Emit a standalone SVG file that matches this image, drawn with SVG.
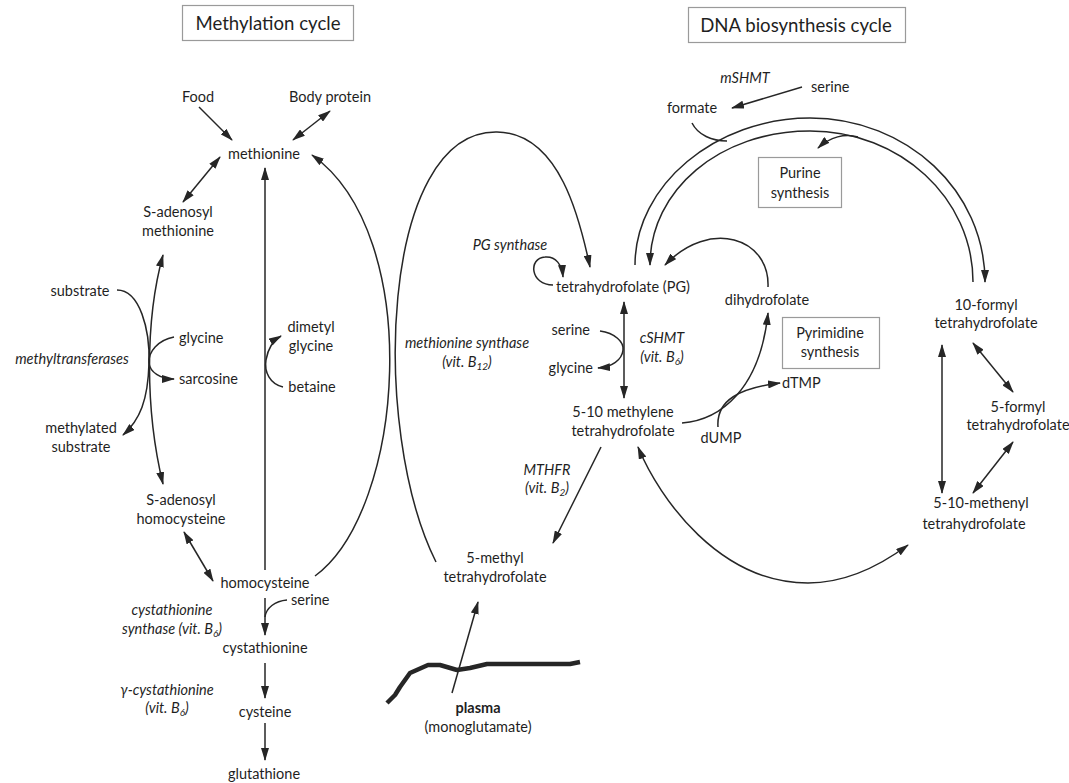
<svg xmlns="http://www.w3.org/2000/svg" width="1069" height="783" viewBox="0 0 1069 783">
<style>
text{font-family:Lato,"Liberation Sans",sans-serif;font-size:14.5px;fill:#1f1f1f}
.i{font-style:italic}
.m{text-anchor:middle}
.e{text-anchor:end}
.t{font-size:18.6px}
.b{font-weight:bold}
.box{fill:#fff;stroke:#9a9a9a;stroke-width:1.2}
.c path,.c line{fill:none;stroke:#262626;stroke-width:1.5}
.a{marker-end:url(#ah)}
.d{marker-start:url(#ah);marker-end:url(#ah)}
</style>
<defs>
<marker id="ah" viewBox="0 0 13 8" refX="12" refY="4" markerWidth="13" markerHeight="8" markerUnits="userSpaceOnUse" orient="auto-start-reverse">
<path d="M0,0 L13,4 L0,8 z" fill="#262626"/>
</marker>
</defs>
<g id="titles">
<g id="methylation-title"><rect class="box" x="182.5" y="5.5" width="171" height="35"/><text class="m t" x="268" y="30">Methylation cycle</text></g>
<g id="dna-title"><rect class="box" x="688.5" y="7.5" width="217" height="35"/><text class="m t" x="796" y="32">DNA biosynthesis cycle</text></g>
</g>
<g class="c" id="connectors">
<line class="a" x1="199" y1="107" x2="232" y2="140"/>
<line class="d" x1="330" y1="111" x2="293" y2="140"/>
<line class="d" x1="220" y1="157" x2="183" y2="202"/>
<path class="d" d="M163,255 C145,320 145,410 163,484"/>
<path class="a" d="M117,290 C140,290 150,330 149,363 C148,400 140,420 123,435"/>
<path class="a" d="M174,337 C158,340 148,352 149,363 C150,372 160,379 174,379"/>
<line class="a" x1="265" y1="570" x2="265" y2="168"/>
<path class="a" d="M283,387 C270,384 264,372 266,360 C268,348 274,340 281,336"/>
<line class="d" x1="184" y1="532" x2="213" y2="581"/>
<path class="a" d="M315,576 C405,510 425,235 312,155"/>
<path d="M287,600 C275,601 266,608 265,617"/>
<line class="a" x1="265" y1="598" x2="265" y2="635"/>
<line class="a" x1="265" y1="663" x2="265" y2="698"/>
<line class="a" x1="265" y1="723" x2="265" y2="760"/>
<path class="a" d="M436,562 C370,430 380,130 497,132 C560,133 580,220 590,267"/>
<path class="a" d="M553,285 C530,285 528,258 545,257 C556,256 562,265 563,277"/>
<line class="d" x1="624" y1="302" x2="624" y2="398"/>
<path class="a" d="M600,331 C615,333 624,342 623,350 C622,360 612,367 598,368"/>
<line class="a" x1="601" y1="447" x2="553" y2="543"/>
<line class="a" x1="452" y1="693" x2="478" y2="602"/>
<path d="M387,703 L395,695 L400,687 L410,673 L428,665 L440,665 L457,670 L470,668 L487,664 L570,664 L580,662" style="stroke-width:4.5;stroke-linejoin:round"/>
<path class="d" d="M638,447 C660,500 720,583 808,583 C850,583 885,562 908,545"/>
<path class="a" d="M682,423 C720,420 760,390 768,313"/>
<path class="a" d="M718,427 C716,400 740,388 780,383"/>
<path class="a" d="M768,287 C770,238 710,218 665,265"/>
<path class="a" d="M635,265 C635,185 716,118 810,118 C907,118 985,191 985,282"/>
<path class="a" d="M973,282 C973,198 900,131 810,131 C720,131 650,190 650,265"/>
<path class="a" d="M858,137 C845,133 830,137 818,148"/>
<path d="M692,123 C698,135 712,141 727,141"/>
<line class="a" x1="802" y1="87" x2="732" y2="108"/>
<line class="d" x1="942" y1="345" x2="942" y2="493"/>
<line class="d" x1="973" y1="343" x2="1013" y2="392"/>
<line class="d" x1="1013" y1="442" x2="973" y2="493"/>
</g>
<g id="n-food"><text class="m" x="198" y="102">Food</text></g>
<g id="n-body-protein"><text class="m" x="330" y="102">Body protein</text></g>
<g id="n-methionine"><text class="m" x="264" y="159">methionine</text></g>
<g id="n-sam"><text class="m" x="178" y="217">S-adenosyl</text><text class="m" x="178" y="236">methionine</text></g>
<g id="n-substrate"><text class="m" x="80" y="296">substrate</text></g>
<g id="n-methyltransferases"><text class="m i" x="72" y="364">methyltransferases</text></g>
<g id="n-glycine1"><text x="179" y="343">glycine</text></g>
<g id="n-sarcosine"><text x="179" y="384">sarcosine</text></g>
<g id="n-methylated"><text class="m" x="81" y="433">methylated</text><text class="m" x="81" y="452">substrate</text></g>
<g id="n-dimetylglycine"><text class="m" x="311" y="332">dimetyl</text><text class="m" x="311" y="351">glycine</text></g>
<g id="n-betaine"><text class="m" x="312" y="392">betaine</text></g>
<g id="n-sah"><text class="m" x="181" y="505">S-adenosyl</text><text class="m" x="181" y="524">homocysteine</text></g>
<g id="n-homocysteine"><text class="m" x="265" y="588">homocysteine</text></g>
<g id="n-serine1"><text x="291" y="605">serine</text></g>
<g id="n-cbs"><text class="m i" x="172" y="615">cystathionine</text><text class="m i" x="172" y="634">synthase (vit. B<tspan font-size="10" dy="3">6</tspan><tspan dy="-3">)</tspan></text></g>
<g id="n-cystathionine"><text class="m" x="265" y="653">cystathionine</text></g>
<g id="n-gcyst"><text class="m i" x="167" y="695">γ-cystathionine</text><text class="m i" x="167" y="713">(vit. B<tspan font-size="10" dy="3">6</tspan><tspan dy="-3">)</tspan></text></g>
<g id="n-cysteine"><text class="m" x="265" y="717">cysteine</text></g>
<g id="n-glutathione"><text class="m" x="264" y="779">glutathione</text></g>
<g id="n-ms"><text class="m i" x="467" y="348">methionine synthase</text><text class="m i" x="467" y="367">(vit. B<tspan font-size="10" dy="3">12</tspan><tspan dy="-3">)</tspan></text></g>
<g id="n-pgsynthase"><text class="m i" x="510" y="250">PG synthase</text></g>
<g id="n-thf"><text class="m" x="623" y="292">tetrahydrofolate (PG)</text></g>
<g id="n-serine2"><text class="e" x="590" y="335">serine</text></g>
<g id="n-glycine2"><text class="e" x="593" y="373">glycine</text></g>
<g id="n-cshmt"><text class="m i" x="662" y="343">cSHMT</text><text class="m i" x="662" y="362">(vit. B<tspan font-size="10" dy="3">6</tspan><tspan dy="-3">)</tspan></text></g>
<g id="n-methylene"><text class="m" x="623" y="417">5-10 methylene</text><text class="m" x="623" y="436">tetrahydrofolate</text></g>
<g id="n-mthfr"><text class="m i" x="547" y="475">MTHFR</text><text class="m i" x="547" y="493">(vit. B<tspan font-size="10" dy="3">2</tspan><tspan dy="-3">)</tspan></text></g>
<g id="n-methylthf"><text class="m" x="495" y="563">5-methyl</text><text class="m" x="495" y="582">tetrahydrofolate</text></g>
<g id="n-plasma"><text class="m b" x="478" y="713">plasma</text><text class="m" x="478" y="732">(monoglutamate)</text></g>
<g id="n-formate"><text class="m" x="692" y="113">formate</text></g>
<g id="n-mshmt"><text class="m i" x="745" y="83">mSHMT</text></g>
<g id="n-serine3"><text x="811" y="92">serine</text></g>
<g id="n-purine"><rect class="box" x="758.5" y="157.5" width="83" height="50"/><text class="m" x="800" y="178">Purine</text><text class="m" x="800" y="198">synthesis</text></g>
<g id="n-dihydrofolate"><text class="m" x="767" y="305">dihydrofolate</text></g>
<g id="n-pyrimidine"><rect class="box" x="782.5" y="317.5" width="97" height="51"/><text class="m" x="830" y="338">Pyrimidine</text><text class="m" x="830" y="357">synthesis</text></g>
<g id="n-dtmp"><text x="782" y="388">dTMP</text></g>
<g id="n-dump"><text class="m" x="721" y="443">dUMP</text></g>
<g id="n-formylthf10"><text class="m" x="986" y="310">10-formyl</text><text class="m" x="986" y="328">tetrahydrofolate</text></g>
<g id="n-formylthf5"><text class="m" x="1018" y="412">5-formyl</text><text class="m" x="1018" y="430">tetrahydrofolate</text></g>
<g id="n-methenyl"><text class="m" x="981" y="508">5-10-methenyl</text><text class="m" x="974" y="529">tetrahydrofolate</text></g>
</svg>
